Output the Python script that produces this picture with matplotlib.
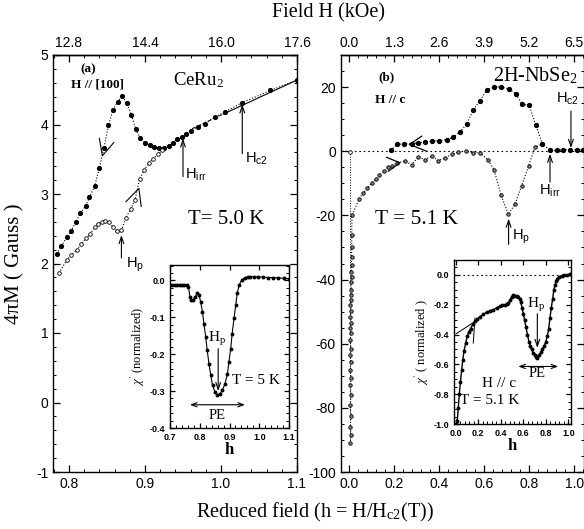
import matplotlib
matplotlib.use('Agg')
import matplotlib.pyplot as plt
from matplotlib.ticker import MultipleLocator, FormatStrFormatter

# ---- panel (a): CeRu2, reduced field vs 4piM
h_a_dec = [0.784, 0.790, 0.797, 0.803, 0.809, 0.815, 0.822, 0.827, 0.834, 0.840, 0.846,
           0.852, 0.858, 0.864, 0.870, 0.876, 0.882, 0.888, 0.894, 0.900, 0.906, 0.912,
           0.918, 0.925, 0.931, 0.937, 0.942, 0.949, 0.954, 0.960, 0.970, 0.979, 0.992,
           1.005, 1.027, 1.065, 1.100]
M_a_dec = [2.14, 2.25, 2.38, 2.47, 2.60, 2.72, 2.83, 2.95, 3.12, 3.38, 3.66,
           3.99, 4.21, 4.33, 4.41, 4.31, 4.14, 3.93, 3.80, 3.73, 3.71, 3.68,
           3.66, 3.66, 3.69, 3.74, 3.79, 3.82, 3.87, 3.91, 3.97, 4.01, 4.11,
           4.18, 4.31, 4.49, 4.64]
h_a_inc = [0.787, 0.797, 0.803, 0.810, 0.816, 0.822, 0.828, 0.834, 0.838, 0.843, 0.848,
           0.853, 0.858, 0.863, 0.869, 0.875, 0.881, 0.887, 0.893, 0.899, 0.905, 0.911,
           0.917, 0.923]
M_a_inc = [1.86, 2.05, 2.12, 2.19, 2.28, 2.36, 2.42, 2.53, 2.57, 2.60, 2.61,
           2.60, 2.52, 2.47, 2.48, 2.66, 2.78, 2.92, 3.22, 3.34, 3.45, 3.51,
           3.57, 3.63]
# normal state line
h_a_norm = [0.962, 1.003, 1.100]
M_a_norm = [3.94, 4.15, 4.64]

# inset (a)
h_ai = [0.700, 0.708, 0.716, 0.724, 0.732, 0.740, 0.748, 0.756, 0.762, 0.767, 0.772,
        0.778, 0.785, 0.792, 0.798, 0.803, 0.809, 0.814, 0.820, 0.825, 0.831, 0.837,
        0.843, 0.851, 0.859, 0.868, 0.876, 0.885, 0.893, 0.898, 0.904, 0.909, 0.915,
        0.921, 0.926, 0.932, 0.941, 0.952, 0.961, 0.969, 0.983, 0.997, 1.013, 1.030,
        1.047, 1.064, 1.082, 1.100]
chi_ai = [-0.011, -0.011, -0.011, -0.011, -0.012, -0.012, -0.012, -0.013, -0.017, -0.045,
          -0.052, -0.052, -0.045, -0.033, -0.040, -0.058, -0.085, -0.117, -0.153, -0.189,
          -0.226, -0.257, -0.284, -0.302, -0.311, -0.307, -0.298, -0.280, -0.253, -0.221,
          -0.185, -0.144, -0.103, -0.067, -0.035, -0.013, 0.001, 0.008, 0.010, 0.010,
          0.010, 0.010, 0.009, 0.008, 0.008, 0.007, 0.006, 0.005]

# ---- panel (b): 2H-NbSe2
h_b_dec = [0.184, 0.213, 0.243, 0.277, 0.306, 0.336, 0.366, 0.400, 0.433, 0.462, 0.492,
           0.522, 0.552, 0.581, 0.611, 0.643, 0.676, 0.708, 0.740, 0.769, 0.799, 0.828,
           0.858, 0.892, 0.921, 0.951, 0.981, 1.011, 1.040]
M_b_dec = [0.3, 2.1, 2.3, 2.4, 2.6, 2.9, 3.1, 3.3, 3.6, 4.4, 6.0,
           8.5, 13.0, 15.8, 19.1, 20.0, 20.0, 19.5, 17.9, 14.6, 14.4, 8.3,
           2.3, 0.3, 0.3, 0.4, 0.5, 0.5, 0.5]
h_b_inc = [0.004, 0.008, 0.004, 0.008, 0.004, 0.008, 0.004, 0.008, 0.004, 0.008, 0.004,
           0.008, 0.004, 0.008, 0.004, 0.008, 0.004, 0.008, 0.005, 0.008, 0.006, 0.009,
           0.008, 0.010, 0.009, 0.010, 0.010, 0.011, 0.011, 0.012,
           0.044, 0.062, 0.080, 0.100, 0.119, 0.133, 0.154, 0.173, 0.188, 0.213, 0.248,
           0.277, 0.307, 0.336, 0.366, 0.396, 0.425, 0.455, 0.485, 0.519, 0.552, 0.581,
           0.615, 0.643, 0.675, 0.707, 0.736, 0.766, 0.797, 0.825, 0.858]
M_b_inc = [-91.1, -88.5, -85.9, -82.5, -79.2, -76.0, -72.9, -70.8, -68.2, -65.6, -63.5,
           -61.7, -58.9, -56.8, -55.2, -53.6, -51.6, -49.8, -47.9, -46.4, -44.8, -43.2,
           -40.8, -39.1, -37.5, -35.4, -33.0, -30.0, -26.0, -20.0,
           -14.9, -13.0, -11.5, -9.9, -8.8, -7.5, -6.3, -5.0, -4.5, -3.6, -3.1,
           -4.2, -1.8, -2.6, -1.6, -2.9, -2.1, -1.0, -0.2, 0.0, -0.5, -0.5,
           -2.6, -5.7, -13.8, -19.7, -16.5, -10.8, -4.5, 1.2, 2.3]

# inset (b)
h_bi = [0.005, 0.014, 0.023, 0.032, 0.042, 0.053, 0.063, 0.074, 0.088, 0.103, 0.118,
        0.133, 0.152, 0.171, 0.193, 0.216, 0.245, 0.275, 0.305, 0.334, 0.364, 0.393,
        0.415, 0.438, 0.452, 0.467, 0.482, 0.497, 0.512, 0.527, 0.542, 0.556, 0.567,
        0.577, 0.589, 0.601, 0.612, 0.624, 0.637, 0.651, 0.663, 0.675, 0.690, 0.704,
        0.715, 0.725, 0.740, 0.755, 0.770, 0.784, 0.799, 0.814, 0.826, 0.837, 0.849,
        0.861, 0.872, 0.882, 0.892, 0.902, 0.921, 0.941, 0.964, 0.986, 1.016]
chi_bi = [-1.0, -0.98, -0.89, -0.80, -0.72, -0.64, -0.57, -0.51, -0.46, -0.41, -0.38,
          -0.36, -0.33, -0.31, -0.295, -0.28, -0.265, -0.25, -0.24, -0.234, -0.22, -0.21,
          -0.205, -0.20, -0.195, -0.19, -0.17, -0.145, -0.138, -0.14, -0.142, -0.145, -0.16,
          -0.18, -0.22, -0.26, -0.305, -0.35, -0.40, -0.45, -0.48, -0.50, -0.525, -0.54,
          -0.55, -0.555, -0.54, -0.52, -0.50, -0.48, -0.45, -0.41, -0.36, -0.29, -0.22,
          -0.16, -0.10, -0.067, -0.04, -0.027, -0.012, -0.005, 0.0, 0.0, 0.005]

SERIF = 'Liberation Serif'
plt.rcParams['font.family'] = 'Liberation Sans'
plt.rcParams['mathtext.fontset'] = 'stix'
plt.rcParams['axes.unicode_minus'] = False
plt.rcParams['axes.linewidth'] = 1.0

W, H = 584, 529
fig = plt.figure(figsize=(W / 100, H / 100), dpi=100)


def box(x0, y0, x1, y1):
    return [x0 / W, 1 - y1 / H, (x1 - x0) / W, (y1 - y0) / H]


def ticks(ax, xmaj, xmin, ymaj, ymin, xfmt, yfmt, size, major=5, minor=2.5, bold=False):
    ax.xaxis.set_major_locator(MultipleLocator(xmaj))
    ax.xaxis.set_minor_locator(MultipleLocator(xmin))
    ax.yaxis.set_major_locator(MultipleLocator(ymaj))
    ax.yaxis.set_minor_locator(MultipleLocator(ymin))
    ax.xaxis.set_major_formatter(FormatStrFormatter(xfmt))
    ax.yaxis.set_major_formatter(FormatStrFormatter(yfmt))
    ax.tick_params(which='both', direction='in', right=True, labelsize=size)
    ax.tick_params(which='major', length=major, width=0.9)
    ax.tick_params(which='minor', length=minor, width=0.7)
    if bold:
        for lab in ax.get_xticklabels() + ax.get_yticklabels():
            lab.set_fontweight('bold')


arrow = dict(arrowstyle='->,head_length=0.5,head_width=0.17', lw=0.8, color='k',
             shrinkA=0, shrinkB=0)
darrow = dict(arrowstyle='<->,head_length=0.4,head_width=0.15', lw=0.8, color='k',
              shrinkA=0, shrinkB=0)

# ================= panel (a)
axa = fig.add_axes(box(53, 55, 297, 472))
axa.plot(h_a_dec, M_a_dec, ls=':', color='k', lw=0.8, marker='o', ms=2.7,
         mfc='k', mec='k')
axa.plot(h_a_inc, M_a_inc, ls=':', color='k', lw=0.8, marker='o', ms=2.6,
         mfc='white', mec='k', mew=0.6)
axa.plot(h_a_norm[:2], M_a_norm[:2], color='k', lw=0.7, ls=(0, (4, 2)))
axa.plot(h_a_norm[1:], M_a_norm[1:], color='k', lw=0.8)
axa.plot([0.840, 0.844, 0.859], [3.80, 3.55, 3.74], color='k', lw=0.8)
axa.plot([0.875, 0.892, 0.895], [2.89, 3.08, 2.82], color='k', lw=0.8)
axa.set_xlim(0.779, 1.1)
axa.set_ylim(-1, 5)
ticks(axa, 0.1, 0.02, 1, 0.2, '%.1f', '%d', 10)
axa.set_ylabel('4πM ( Gauss )', family=SERIF, fontsize=15, labelpad=8)
seca = axa.secondary_xaxis('top', functions=(lambda h: h * 16.0, lambda x: x / 16.0))
seca.set_xticks([12.8, 14.4, 16.0, 17.6])
seca.xaxis.set_minor_locator(MultipleLocator(0.32))
seca.xaxis.set_major_formatter(FormatStrFormatter('%.1f'))
seca.tick_params(which='both', direction='in', labelsize=10)
seca.tick_params(which='major', length=5, width=0.9)
seca.tick_params(which='minor', length=2.5, width=0.7)

axa.text(0.825, 4.80, '(a)', family=SERIF, fontsize=9.5, fontweight='bold', ha='center', va='center')
axa.text(0.838, 4.58, 'H // [100]', family=SERIF, fontsize=9.5, fontweight='bold', ha='center', va='center')
axa.text(0.937, 4.64, r'CeRu$_\mathregular{2}$', family=SERIF, fontsize=13.5, va='center')
axa.text(0.957, 2.63, 'T= 5.0 K', family=SERIF, fontsize=15, va='center')
axa.annotate('', xy=(0.869, 2.41), xytext=(0.869, 2.08), arrowprops=arrow)
axa.text(0.875, 1.98, r'H$_\mathregular{p}$', fontsize=10.5, va='center')
axa.annotate('', xy=(0.950, 3.80), xytext=(0.950, 3.25), arrowprops=arrow)
axa.text(0.953, 3.28, r'H$_\mathregular{irr}$', fontsize=10.5, va='center')
axa.annotate('', xy=(1.028, 4.29), xytext=(1.028, 3.58), arrowprops=arrow)
axa.text(1.032, 3.50, r'H$_\mathregular{c2}$', fontsize=10.5, va='center')

# inset (a)
ia = fig.add_axes(box(170, 265, 289, 428))
ia.plot(h_ai, chi_ai, color='k', lw=0.8, marker='o', ms=1.8)
ia.set_xlim(0.7, 1.1)
ia.set_ylim(-0.4, 0.042)
ticks(ia, 0.1, 0.02, 0.1, 0.02, '%.1f', '%.1f', 6.5, major=3.5, minor=2, bold=True)
ia.tick_params(top=True)
ia.set_xlabel('h', family=SERIF, fontsize=12, fontweight='bold', labelpad=0)
ia.set_ylabel(r"$\chi$$^{\prime}$ (normalized)", family=SERIF, fontsize=9, labelpad=2)
ia.annotate('', xy=(0.862, -0.300), xytext=(0.862, -0.185), arrowprops=arrow)
ia.text(0.857, -0.160, r'H$_\mathregular{p}$', family=SERIF, fontsize=11, ha='center', va='center')
ia.text(0.988, -0.271, 'T = 5 K', family=SERIF, fontsize=11, ha='center', va='center')
ia.annotate('', xy=(0.767, -0.337), xytext=(0.952, -0.337), arrowprops=darrow)
ia.text(0.857, -0.365, 'PE', family=SERIF, fontsize=10.5, ha='center', va='center')

# ================= panel (b)
axb = fig.add_axes(box(340.7, 55, 584, 472))
axb.axhline(0, color='k', lw=0.8, ls=(0, (1.5, 2.5)))
axb.plot([0.003, 0.003], [0, -91], color='k', lw=0.7, ls=':')
axb.plot([0.003], [-0.3], ls='none', marker='o', ms=2.6, mfc='white', mec='k', mew=0.6)
axb.plot(h_b_inc, M_b_inc, ls=':', color='k', lw=0.8, marker='o', ms=2.5,
         mfc='0.5', mec='k', mew=0.6)
axb.plot(h_b_dec, M_b_dec, ls=':', color='k', lw=0.8, marker='o', ms=2.8,
         mfc='k', mec='k')
axb.plot([0.322, 0.267, 0.344], [4.7, 2.1, 0.0], color='k', lw=0.9)
axb.plot([0.166, 0.225, 0.173], [-1.9, -3.6, -6.25], color='k', lw=0.9)
axb.set_xlim(-0.038, 1.043)
axb.set_ylim(-100, 30)
ticks(axb, 0.2, 0.04, 20, 5, '%.1f', '%d', 10)
secb = axb.secondary_xaxis('top', functions=(lambda h: h * 6.5, lambda x: x / 6.5))
secb.set_xticks([0.0, 1.3, 2.6, 3.9, 5.2, 6.5])
secb.xaxis.set_minor_locator(MultipleLocator(0.26))
secb.xaxis.set_major_formatter(FormatStrFormatter('%.1f'))
secb.tick_params(which='both', direction='in', labelsize=10)
secb.tick_params(which='major', length=5, width=0.9)
secb.tick_params(which='minor', length=2.5, width=0.7)

axb.text(0.166, 23.0, '(b)', family=SERIF, fontsize=9.5, fontweight='bold', ha='center', va='center')
axb.text(0.183, 16.0, 'H // c', family=SERIF, fontsize=9.5, fontweight='bold', ha='center', va='center')
axb.text(0.64, 23.5, r'2H-NbSe$_\mathregular{2}$', family=SERIF, fontsize=14.5, va='center')
axb.text(0.114, -21.3, 'T = 5.1 K', family=SERIF, fontsize=15.5, va='center')
axb.annotate('', xy=(0.708, -21.0), xytext=(0.708, -29.0), arrowprops=arrow)
axb.text(0.723, -26.6, r'H$_\mathregular{p}$', fontsize=10.5, va='center')
axb.annotate('', xy=(0.892, -0.8), xytext=(0.892, -9.6), arrowprops=arrow)
axb.text(0.892, -10.0, r'H$_\mathregular{irr}$', fontsize=10.5, ha='center', va='top')
axb.annotate('', xy=(0.985, 1.0), xytext=(0.985, 12.5), arrowprops=arrow)
axb.text(0.970, 16.4, r'H$_\mathregular{c2}$', fontsize=10.5, ha='center', va='center')

# inset (b)
ib = fig.add_axes(box(454, 260, 571, 424))
ib.axhline(0, color='k', lw=0.8, ls=(0, (1.5, 2.5)))
ib.plot(h_bi, chi_bi, color='k', lw=1.0, marker='o', ms=1.8)
ib.plot([0.003, 0.171], [-0.395, -0.313], color='k', lw=0.7)
ib.plot([0.156, 0.171], [-0.457, -0.29], color='k', lw=0.7)
ib.set_xlim(-0.015, 1.024)
ib.set_ylim(-1.0, 0.1)
ticks(ib, 0.2, 0.04, 0.2, 0.05, '%.1f', '%.1f', 6.5, major=3.5, minor=2, bold=True)
ib.tick_params(top=True)
ib.set_xlabel('h', family=SERIF, fontsize=12, fontweight='bold', labelpad=0)
ib.set_ylabel(r"$\chi$$^{\prime}$ ( normalized )", family=SERIF, fontsize=9, labelpad=2)
ib.annotate('', xy=(0.725, -0.49), xytext=(0.725, -0.26), arrowprops=arrow)
ib.text(0.718, -0.20, r'H$_\mathregular{p}$', family=SERIF, fontsize=11, ha='center', va='center')
ib.annotate('', xy=(0.556, -0.614), xytext=(0.911, -0.614), arrowprops=darrow)
ib.text(0.727, -0.66, 'PE', family=SERIF, fontsize=10.5, ha='center', va='center')
ib.text(0.385, -0.73, 'H // c', family=SERIF, fontsize=11, ha='center', va='center')
ib.text(0.305, -0.845, 'T = 5.1 K', family=SERIF, fontsize=11, ha='center', va='center')

fig.text(328 / W, 1 - 13 / H, 'Field H (kOe)', family=SERIF, fontsize=14.5, ha='center', va='center')
fig.text(315 / W, 1 - 512 / H, r'Reduced field (h = H/H$_\mathregular{c2}$(T))', family=SERIF,
         fontsize=14.5, ha='center', va='center')

fig.savefig('out.png', dpi=100)
